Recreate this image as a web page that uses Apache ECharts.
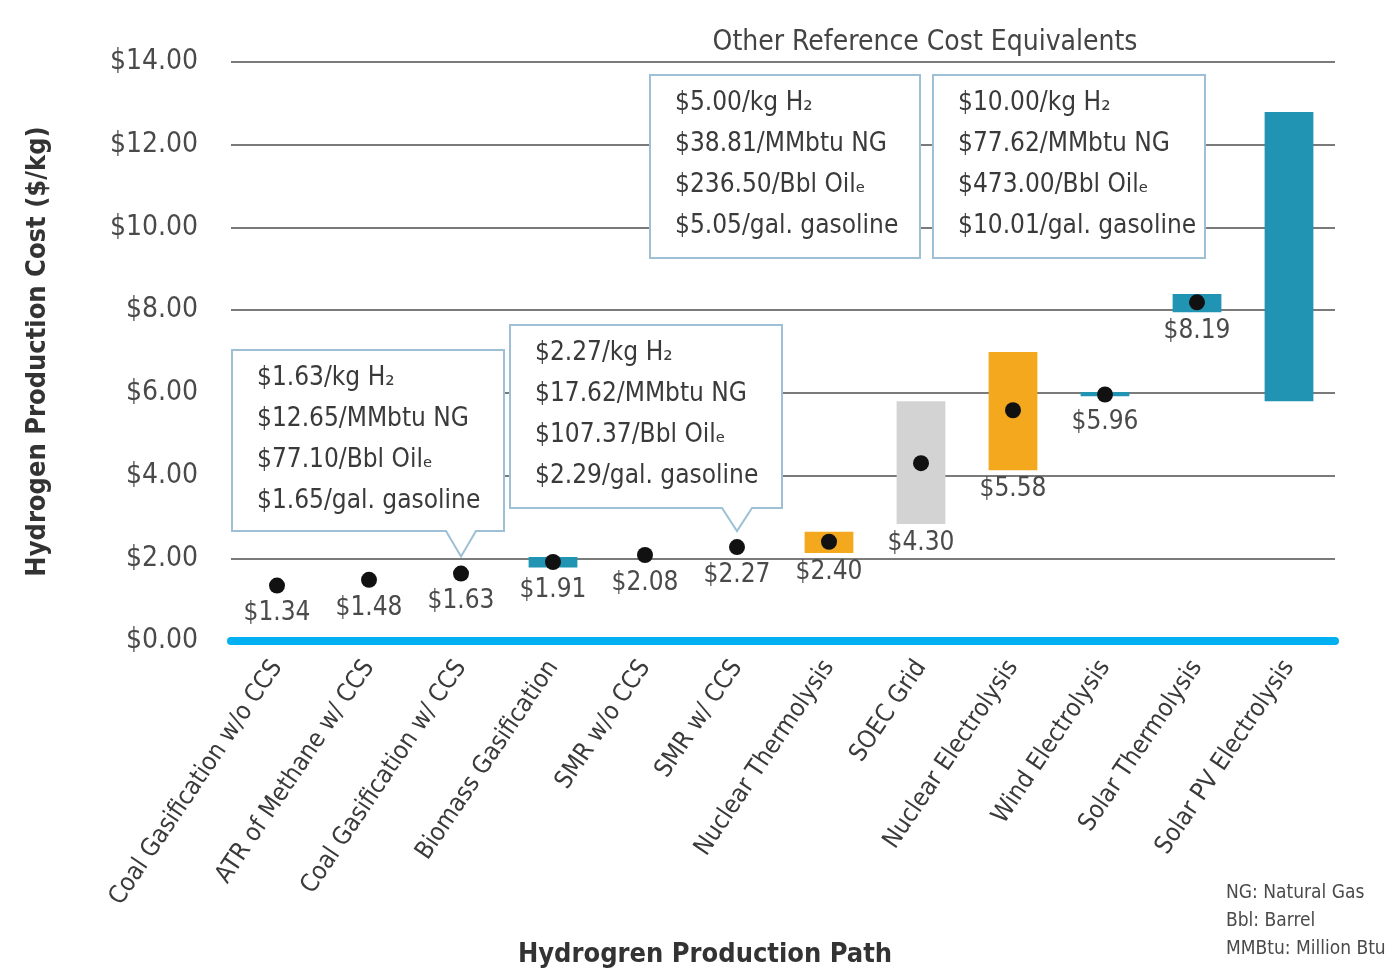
<!DOCTYPE html>
<html>
<head>
<meta charset="utf-8">
<script src="https://cdn.jsdelivr.net/npm/echarts@6/dist/echarts.min.js"></script>
<style>
  html, body { margin: 0; padding: 0; background: #fff; }
  #chart { width: 1399px; height: 976px; }
</style>
</head>
<body>
<div id="chart"></div>
<script>
const categories = [
  'Coal Gasification w/o CCS', 'ATR of Methane w/ CCS', 'Coal Gasification w/ CCS',
  'Biomass Gasification', 'SMR w/o CCS', 'SMR w/ CCS', 'Nuclear Thermolysis',
  'SOEC Grid', 'Nuclear Electrolysis', 'Wind Electrolysis', 'Solar Thermolysis',
  'Solar PV Electrolysis'
]
// point estimate ($/kg), null where none is shown
const costs = [1.34, 1.48, 1.63, 1.91, 2.08, 2.27, 2.40, 4.30, 5.58, 5.96, 8.19, null]
// cost range (low / high), null where no bar
const rangeLow = [null, null, null, 1.78, null, null, 2.13, 2.83, 4.13, 5.92, 7.95, 5.80]
const rangeHigh = [null, null, null, 2.03, null, null, 2.64, 5.80, 6.99, 6.02, 8.39, 12.79]
const sources = ['fossil', 'fossil', 'fossil', 'renewable', 'fossil', 'fossil', 'nuclear',
  'grid', 'nuclear', 'renewable', 'renewable', 'renewable']
const yTicks = [0, 2, 4, 6, 8, 10, 12, 14]

// reference cost equivalents shown in the call-out boxes
const calloutLow = ['$1.63/kg H\u2082', '$12.65/MMbtu NG', '$77.10/Bbl Oil\u2091', '$1.65/gal. gasoline']
const calloutMid = ['$2.27/kg H\u2082', '$17.62/MMbtu NG', '$107.37/Bbl Oil\u2091', '$2.29/gal. gasoline']
const callout5 = ['$5.00/kg H\u2082', '$38.81/MMbtu NG', '$236.50/Bbl Oil\u2091', '$5.05/gal. gasoline']
const callout10 = ['$10.00/kg H\u2082', '$77.62/MMbtu NG', '$473.00/Bbl Oil\u2091', '$10.01/gal. gasoline']
const footnotes = ['NG: Natural Gas', 'Bbl: Barrel', 'MMBtu: Million Btu']

const FONT = '"Liberation Sans Narrow", "DejaVu Sans Condensed", "Arial Narrow", sans-serif'
const sourceColor = { renewable: '#2094b2', nuclear: '#f4a81d', grid: '#d3d3d3', fossil: '#2094b2' }
const boxStroke = '#9ec0d6'

const chart = echarts.init(document.getElementById('chart'))

function renderRange(params, api) {
  const i = params.dataIndex
  const band = api.size([1, 0])[0]
  const w = band * 0.53
  const children = []
  let bottomPx = -Infinity
  if (rangeLow[i] != null) {
    const top = api.coord([i, rangeHigh[i]])
    const bot = api.coord([i, rangeLow[i]])
    children.push({
      type: 'rect',
      shape: { x: top[0] - w / 2, y: top[1], width: w, height: Math.max(bot[1] - top[1], 3) },
      style: { fill: sourceColor[sources[i]] }
    })
    bottomPx = bot[1]
  }
  if (costs[i] != null) {
    const p = api.coord([i, costs[i]])
    const y = Math.max(bottomPx, p[1] + 9) + 6
    children.push({
      type: 'text',
      style: {
        text: '$' + costs[i].toFixed(2), x: p[0], y: y,
        align: 'center', verticalAlign: 'top',
        fontSize: 26, fontFamily: FONT, fill: '#4a4a4a'
      }
    })
  }
  return { type: 'group', children }
}

chart.setOption({
  animation: false,
  grid: { left: 231, right: 64, top: 62, bottom: 335 },
  xAxis: {
    type: 'category',
    data: categories,
    axisLine: { lineStyle: { color: '#00b0f0', width: 8 } },
    axisTick: { show: false },
    axisLabel: {
      rotate: 56, interval: 0, margin: 22,
      fontSize: 25, fontFamily: FONT, color: '#3a3a3a'
    }
  },
  yAxis: {
    type: 'value',
    min: yTicks[0], max: yTicks[yTicks.length - 1], interval: 2,
    name: 'Hydrogen Production Cost ($/kg)',
    nameLocation: 'middle', nameRotate: 90, nameGap: 180,
    nameTextStyle: { fontSize: 27, fontWeight: 'bold', fontFamily: FONT, color: '#333' },
    axisLine: { show: false },
    axisTick: { show: false },
    axisLabel: {
      margin: 33, fontSize: 28, fontFamily: FONT, color: '#4a4a4a',
      formatter: v => '$' + v.toFixed(2)
    },
    splitLine: { lineStyle: { color: '#7a7a7a', width: 2 } }
  },
  series: [
    {
      type: 'custom',
      renderItem: renderRange,
      encode: { x: 0, y: [1, 2] },
      data: categories.map((c, i) => [i, rangeLow[i] ?? costs[i], rangeHigh[i] ?? costs[i]]),
      z: 2
    },
    {
      type: 'scatter',
      data: costs.map((v, i) => (v == null ? null : [i, v])).filter(d => d),
      symbolSize: 16,
      itemStyle: { color: '#111', opacity: 1 },
      z: 3
    }
  ]
})

// call-out boxes, pointers aimed at the data points they describe
function box(x0, y0, x1, y1, lines, tip) {
  let points
  if (tip) {
    points = [[x0, y0], [x1, y0], [x1, y1], [tip[0] + 15, y1], [tip[0], tip[1]], [tip[0] - 15, y1], [x0, y1]]
  } else {
    points = [[x0, y0], [x1, y0], [x1, y1], [x0, y1]]
  }
  return [
    {
      type: 'polygon', z: 10,
      shape: { points },
      style: { fill: '#fff', stroke: boxStroke, lineWidth: 2 }
    },
    {
      type: 'text', z: 11,
      x: x0 + 25, y: y0 + 8,
      style: {
        text: lines.join('\n'), lineHeight: 41,
        fontSize: 26, fontFamily: FONT, fill: '#3a3a3a', verticalAlign: 'top'
      }
    }
  ]
}

const tipLow = chart.convertToPixel({ gridIndex: 0 }, [2, costs[2]])
const tipMid = chart.convertToPixel({ gridIndex: 0 }, [5, costs[5]])

chart.setOption({
  graphic: [
    ...box(232, 350, 504, 531, calloutLow, [tipLow[0], tipLow[1] - 17]),
    ...box(510, 325, 782, 508, calloutMid, [tipMid[0], tipMid[1] - 16]),
    ...box(650, 75, 920, 258, callout5),
    ...box(933, 75, 1205, 258, callout10),
    {
      type: 'text', z: 11, x: 925, y: 43,
      style: {
        text: 'Other Reference Cost Equivalents', align: 'center', verticalAlign: 'middle',
        fontSize: 28, fontFamily: FONT, fill: '#444'
      }
    },
    {
      type: 'text', z: 11, x: 705, y: 955,
      style: {
        text: 'Hydrogren Production Path', align: 'center', verticalAlign: 'middle',
        fontSize: 27, fontWeight: 'bold', fontFamily: FONT, fill: '#333'
      }
    },
    {
      type: 'text', z: 11, x: 1226, y: 879,
      style: {
        text: footnotes.join('\n'), lineHeight: 28, verticalAlign: 'top',
        fontSize: 19, fontFamily: FONT, fill: '#4a4a4a'
      }
    }
  ]
})
</script>
</body>
</html>
